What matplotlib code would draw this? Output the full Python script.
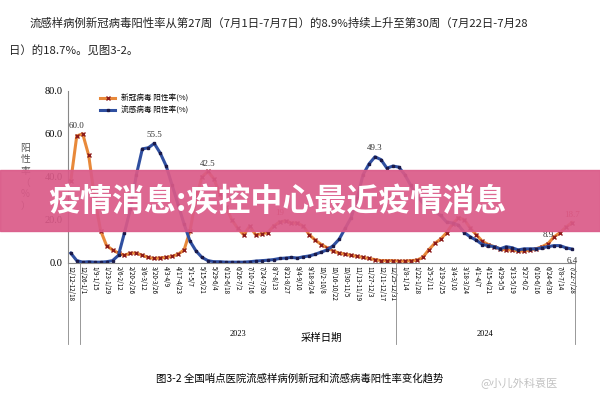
import matplotlib
matplotlib.use("Agg")
import matplotlib.pyplot as plt
import pandas as pd
from matplotlib.patches import Rectangle

plt.rcParams['font.family'] = ['Noto Sans CJK SC', 'DejaVu Sans']

# weekly positivity rates, week of 2022-12-12 .. week of 2024-07-22
covid = [38, 59, 60, 50, 30, 15, 8, 6, 4.5, 3.5, 4.5, 4.5, 3.5, 2.5, 2, 2.3, 2.5, 3, 4, 6,
         15, 30, 40, 42.5, 39, 32, 26, 20, 16, 13, 17, 13, 13.5, 14, 17, 19, 19.5, 18.5, 18.5, 17,
         13, 10.5, 8.5, 7, 5.5, 4.5, 4, 3.5, 3, 2.5, 2, 1.5, 1, 1, 1, 0.8, 0.8, 1, 1.2, 2.5,
         6, 9, 11, 14, 18, 21, 20, 16, 13, 10, 8.5, 7.5, 6.5, 6, 6, 5.5, 5.5, 6, 6.5, 7.5,
         8.9, 12, 14, 16.5, 18.7]
flu = [4.5, 1, 0.3, 0.5, 0.3, 0.3, 0.5, 1, 3.5, 14, 25, 41, 53, 53.5, 55.5, 51, 45, 36, 27, 18,
       10, 5.5, 2.5, 1, 0.5, 0.5, 0.3, 0.3, 0.3, 0.3, 0.5, 0.8, 1, 1.2, 1.5, 2, 2.2, 2.5, 2.2, 2.8,
       3.2, 4, 5, 6, 8, 11, 16, 21, 30, 41, 46, 49.3, 48, 44, 45, 44.5, 41, 36, 31, 28,
       26, 24, 22, 19, 18.5, 17.5, 14, 12, 10.5, 8.5, 8, 7.5, 6.5, 7.5, 7, 6, 6.5, 6.5, 6.5, 7,
       7.5, 8, 8, 7, 6.4]
weeks = pd.date_range("2022-12-12", periods=len(covid), freq="7D")
tick_labels = [f"{d.month}/{d.day}-{(d + pd.Timedelta(days=6)).month}/{(d + pd.Timedelta(days=6)).day}"
               for d in weeks]
peaks = [(1, 60.0, "60.0", "#333333"), (23, 42.5, "42.5", "#333333"), (35, 19.5, "19", "#c0392b"),
         (84, 18.7, "18.7", "#c0392b")]
flu_peaks = [(14, 55.5, "55.5"), (51, 49.3, "49.3"), (80, 8.9, "8.9"), (84, 6.4, "6.4")]

fig = plt.figure(figsize=(6, 4), dpi=100)
fig.patch.set_facecolor("white")

fig.text(0.05, 0.932, "流感样病例新冠病毒阳性率从第27周（7月1日-7月7日）的8.9%持续上升至第30周（7月22日-7月28",
         fontsize=8.2, color="#222222")
fig.text(0.015, 0.862, "日）的18.7%。见图3-2。", fontsize=8.2, color="#222222")

ax = fig.add_axes([0.113, 0.343, 0.845, 0.43])
x = list(range(len(covid)))
ax.plot(x, covid, color="#e8893a", lw=2.2, marker="x", ms=2.5, mec="#8b1a1a", label="新冠病毒 阳性率(%)")
ax.plot(x, flu, color="#2f4fa0", lw=2.2, marker="s", ms=2, mec="#1a1a4a", mfc="#1a1a4a", label="流感病毒 阳性率(%)")
ax.set_ylim(0, 80)
ax.set_xlim(-0.5, len(covid) - 0.5)
ax.set_yticks([0, 20, 40, 60, 80])
ax.set_yticklabels(["0.0", "20.0", "40.0", "60.0", "80.0"], fontsize=7.5, family="Liberation Serif")
ax.set_xticks(x[::2])
ax.set_xticklabels(tick_labels[::2], rotation=270, fontsize=4.5)
ax.tick_params(axis="x", length=0, pad=2)
ax.tick_params(axis="y", length=0)
for s in ["top", "right"]:
    ax.spines[s].set_visible(False)
ax.spines["bottom"].set_color("#888888")
ax.spines["left"].set_color("#888888")
ax.set_ylabel("阳\n性\n率\n（\n%\n）", rotation=0, fontsize=7, color="#555555", labelpad=14, va="center")
for i, v, t, c in peaks:
    ax.annotate(t, (i, v), xytext=(0, 4), textcoords="offset points", ha="center", fontsize=6.5,
                color=c, family="Liberation Serif")
for i, v, t in flu_peaks:
    ax.annotate(t, (i, v), xytext=(0, 5 if t != "6.4" else -10), textcoords="offset points",
                ha="center", fontsize=6.5, color="#333333", family="Liberation Serif")
leg = ax.legend(loc="upper left", bbox_to_anchor=(0.05, 1.02), fontsize=5.5, frameon=False)

# year separators and labels
for b in [1.5, 54.5, len(covid) - 0.5]:
    ax.plot([b, b], [0, -38], color="#888888", lw=0.6, clip_on=False)
ax.plot([-0.5, -0.5], [0, -38], color="#888888", lw=0.6, clip_on=False)
ax.text(28, -34, "2023", ha="center", fontsize=6, family="Liberation Serif")
ax.text(69.5, -34, "2024", ha="center", fontsize=6, family="Liberation Serif")
fig.text(0.535, 0.148, "采样日期", ha="center", fontsize=7.5)
fig.text(0.5, 0.045, "图3-2 全国哨点医院流感样病例新冠和流感病毒阳性率变化趋势", ha="center", fontsize=7.5)
fig.text(0.8, 0.035, "@小儿外科袁医", fontsize=8, color="#bbbbbb", alpha=0.9)

# banner overlay
fig.patches.append(Rectangle((0, 0.422), 1, 0.152, transform=fig.transFigure, color="#da5a88",
                             alpha=0.92, zorder=5))
fig.text(0.08, 0.496, "疫情消息:疾控中心最近疫情消息", fontsize=23, weight="bold", color="white",
         va="center", zorder=6)

fig.savefig("out.png", dpi=100)
